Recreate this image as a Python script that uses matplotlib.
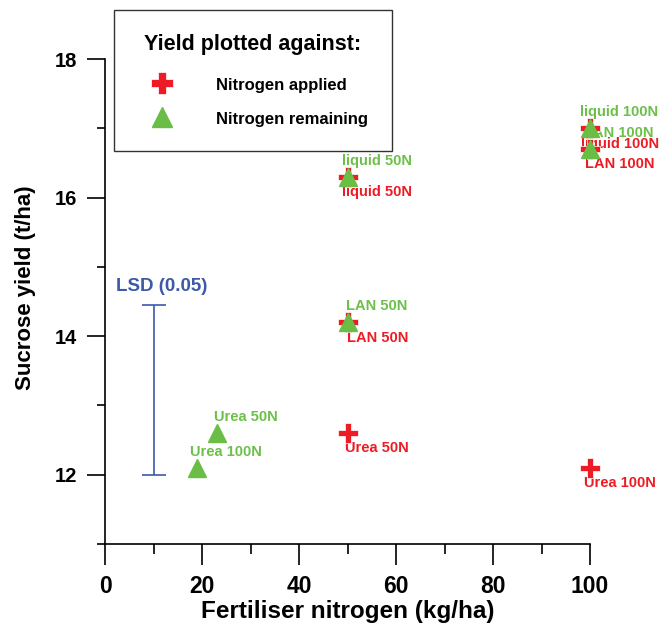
import matplotlib
matplotlib.use("Agg")
import matplotlib.pyplot as plt
from matplotlib.ticker import MultipleLocator

plt.rcParams['font.family'] = ['Liberation Sans', 'DejaVu Sans']
plt.rcParams['font.weight'] = 'bold'
plt.rcParams['axes.labelweight'] = 'bold'

# yield for each treatment (same yield, plotted against two x measures)
treatments = ['liquid 50N', 'LAN 50N', 'Urea 50N', 'Urea 100N', 'liquid 100N', 'LAN 100N']
sucrose_yield = [16.3, 14.2, 12.6, 12.1, 17.0, 16.7]
n_applied = [50, 50, 50, 100, 100, 100]
n_remaining = [50, 50, 23, 19, 100, 100]

lsd_x = 10
lsd_low = 12.0
lsd_value = 2.45

red = '#ED1C24'
green = '#6ABD45'
green_txt = '#6CC04A'
blue = '#3C5AA8'

fig = plt.figure(figsize=(6.63, 6.25), dpi=100)
ax = fig.add_axes([0.1584, 0.1296, 0.7315, 0.776])

ax.plot(n_applied, sucrose_yield, linestyle='none', marker='P', ms=14,
        color=red, mec='white', mew=0.5, zorder=3, clip_on=False, label='Nitrogen applied')
ax.plot(n_remaining, sucrose_yield, linestyle='none', marker='^', ms=13,
        color=green, mec=green, zorder=4, clip_on=False, label='Nitrogen remaining')

for name, xa, xr, y in zip(treatments, n_applied, n_remaining, sucrose_yield):
    ax.annotate(name, (xa, y), xytext=(21.5, -11), textcoords='offset points',
                ha='center', va='center', fontsize=10.5, color=red, zorder=2,
                annotation_clip=False)
    ax.annotate(name, (xr, y), xytext=(21, 11.5), textcoords='offset points',
                ha='center', va='center', fontsize=10.5, color=green_txt, zorder=2,
                annotation_clip=False)

# LSD bar
ax.errorbar([lsd_x], [lsd_low + lsd_value / 2], yerr=[lsd_value / 2], color=blue,
            lw=1.2, capsize=8.4, capthick=1.2, zorder=2)
ax.text(lsd_x + 1.7, lsd_low + lsd_value + 0.27, 'LSD (0.05)', ha='center', va='center',
        fontsize=13.5, color=blue)

ax.set_xlim(0, 100)
ax.set_ylim(11, 18)
ax.spines['top'].set_visible(False)
ax.spines['right'].set_visible(False)
ax.spines['left'].set_linewidth(1.2)
ax.spines['bottom'].set_linewidth(1.2)

ax.xaxis.set_major_locator(MultipleLocator(20))
ax.xaxis.set_minor_locator(MultipleLocator(10))
ax.yaxis.set_major_locator(MultipleLocator(2))
ax.yaxis.set_minor_locator(MultipleLocator(1))
ax.set_yticks([12, 14, 16, 18])
ax.tick_params(axis='x', which='major', direction='out', length=15, width=1.2, pad=7, labelsize=16.5)
ax.tick_params(axis='x', which='minor', direction='out', length=7.5, width=1.2)
ax.tick_params(axis='y', which='major', direction='out', length=13, width=1.2, pad=7, labelsize=14.5)
ax.tick_params(axis='y', which='minor', direction='out', length=6, width=1.2)

ax.set_xlabel('Fertiliser nitrogen (kg/ha)', fontsize=17.5, labelpad=2)
ax.set_ylabel('Sucrose yield (t/ha)', fontsize=16)
ax.yaxis.set_label_coords(-0.142, 0.528)

leg = ax.legend(loc='upper left', bbox_to_anchor=(114 / 663, 1 - 10 / 625),
                bbox_transform=fig.transFigure, borderaxespad=0,
                title='Yield plotted against:', title_fontproperties={'size': 15.5, 'weight': 'bold'},
                fontsize=12, frameon=True, fancybox=False, edgecolor='black',
                borderpad=1.45, handlelength=2.8, handleheight=1.2, handletextpad=1.85,
                labelspacing=1.0, numpoints=1, markerscale=1.1)
leg.get_frame().set_linewidth(1.0)
# more room between the title and the entries than between entries
leg._legend_box.sep = 15

fig.savefig('out.png', dpi=100)
